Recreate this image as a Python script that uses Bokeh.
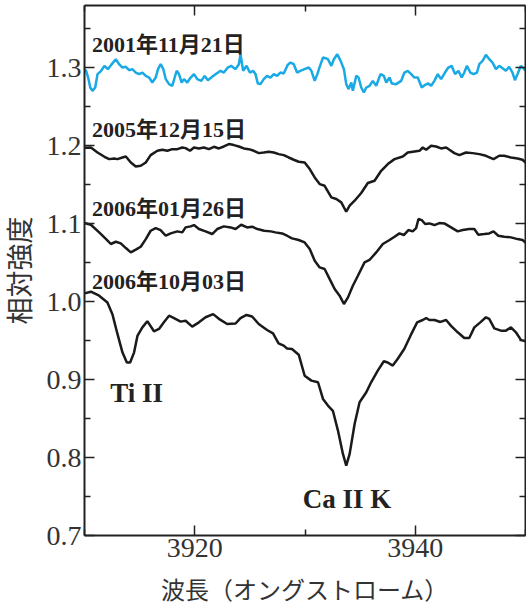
from bokeh.plotting import figure
from bokeh.models import (Range1d, LinearAxis, FixedTicker, CustomJSTickFormatter, Label,
                          PrintfTickFormatter)
from bokeh.embed import file_html
from bokeh.resources import INLINE

# ---- data (wavelength in Angstrom, relative intensity) ----
wl_2001 = [3910.0, 3910.15, 3910.33, 3910.52, 3910.72, 3910.97, 3911.18, 3911.51, 3911.81, 3912.12, 3912.42,
           3912.84, 3913.14, 3913.44, 3913.75, 3914.05, 3914.34, 3914.65, 3914.95, 3915.25, 3915.56,
           3915.86, 3916.15, 3916.46, 3916.67, 3916.91, 3917.15, 3917.37, 3917.67, 3917.96, 3918.18,
           3918.36, 3918.57, 3918.81, 3919.02, 3919.32, 3919.63, 3919.93, 3920.23, 3920.59, 3920.9,
           3921.19, 3921.58, 3921.98, 3922.34, 3922.64, 3923.0, 3923.3, 3923.7, 3924.0, 3924.15,
           3924.39, 3924.7, 3925.0, 3925.29, 3925.51, 3925.72, 3925.96, 3926.26, 3926.56, 3926.87,
           3927.17, 3927.47, 3927.77, 3928.07, 3928.43, 3928.68, 3928.98, 3929.28, 3929.58, 3929.95,
           3930.34, 3930.58, 3930.88, 3931.12, 3931.33, 3931.63, 3931.85, 3932.08, 3932.39, 3932.62,
           3932.93, 3933.23, 3933.53, 3933.74, 3933.96, 3934.2, 3934.34, 3934.65, 3934.86, 3935.1,
           3935.34, 3935.56, 3935.86, 3936.15, 3936.46, 3936.85, 3937.15, 3937.37, 3937.67, 3937.87,
           3938.27, 3938.72, 3939.02, 3939.32, 3939.63, 3939.93, 3940.23, 3940.59, 3940.9, 3941.19,
           3941.44, 3941.74, 3942.04, 3942.34, 3942.7, 3943.0, 3943.3, 3943.61, 3943.91, 3944.21,
           3944.45, 3944.69, 3944.99, 3945.29, 3945.6, 3945.81, 3946.11, 3946.41, 3946.71, 3947.01,
           3947.32, 3947.62, 3947.92, 3948.22, 3948.52, 3948.82, 3949.04, 3949.28, 3949.58, 3949.88, 3950.0]
rel_2001 = [1.298, 1.296, 1.2876, 1.2748, 1.2705, 1.2748, 1.292, 1.2962, 1.3026, 1.2983, 1.3038,
            1.3111, 1.3047, 1.3004, 1.3013, 1.297, 1.2983, 1.294, 1.292, 1.294, 1.2897,
            1.2876, 1.2812, 1.2876, 1.2983, 1.3047, 1.2983, 1.2855, 1.2791, 1.277, 1.2876,
            1.2962, 1.292, 1.2812, 1.2855, 1.2812, 1.2876, 1.292, 1.2855, 1.2833, 1.2897,
            1.2842, 1.2885, 1.2927, 1.2962, 1.294, 1.3004, 1.3026, 1.2983, 1.3047, 1.3175,
            1.2962, 1.3026, 1.294, 1.2962, 1.292, 1.2799, 1.2791, 1.2855, 1.2897, 1.2876,
            1.292, 1.2897, 1.294, 1.2927, 1.3038, 1.3068, 1.3047, 1.294, 1.2962, 1.2983,
            1.3004, 1.2962, 1.2833, 1.292, 1.3013, 1.3132, 1.3124, 1.3111, 1.3026, 1.3111,
            1.3175, 1.309, 1.2983, 1.2791, 1.2727, 1.2812, 1.2705, 1.2897, 1.2876, 1.2748,
            1.2684, 1.2748, 1.277, 1.2833, 1.277, 1.292, 1.2897, 1.2812, 1.2876, 1.2799,
            1.2791, 1.2833, 1.294, 1.2962, 1.292, 1.2876, 1.2876, 1.2748, 1.2782, 1.2799,
            1.277, 1.2833, 1.292, 1.2855, 1.294, 1.3004, 1.3026, 1.292, 1.2962, 1.2876,
            1.294, 1.3026, 1.294, 1.292, 1.294, 1.3047, 1.309, 1.3167, 1.3111, 1.3068,
            1.2983, 1.3026, 1.2996, 1.2962, 1.3013, 1.294, 1.2842, 1.292, 1.3026, 1.2983, 1.297]

wl_2005 = [3910.0, 3910.58, 3911.18, 3911.81, 3912.24, 3912.69, 3912.99, 3913.44, 3913.75, 3914.2, 3914.65,
           3915.1, 3915.56, 3916.0, 3916.61, 3917.06, 3917.51, 3917.96, 3918.42, 3918.87, 3919.17,
           3919.57, 3919.93, 3920.38, 3920.83, 3921.28, 3921.74, 3922.19, 3922.64, 3923.1, 3923.55,
           3924.0, 3924.45, 3924.9, 3925.36, 3925.81, 3926.26, 3926.71, 3927.17, 3927.62, 3928.07,
           3928.52, 3928.98, 3929.43, 3929.97, 3930.43, 3930.88, 3931.33, 3931.78, 3932.39, 3932.84,
           3933.29, 3933.74, 3934.05, 3934.5, 3935.1, 3935.7, 3936.31, 3936.91, 3937.51, 3938.12,
           3938.87, 3939.32, 3939.93, 3940.38, 3940.68, 3940.99, 3941.44, 3941.89, 3942.34, 3942.8,
           3943.1, 3943.55, 3944.0, 3944.6, 3945.2, 3945.81, 3946.41, 3947.1, 3947.62, 3948.07,
           3948.68, 3949.28, 3949.73, 3950.0]
rel_2005 = [1.1975, 1.1978, 1.1914, 1.1859, 1.1829, 1.1838, 1.1829, 1.185, 1.1863, 1.1786, 1.1735,
            1.1744, 1.1786, 1.188, 1.1936, 1.1949, 1.1936, 1.1957, 1.1957, 1.1978, 1.197,
            1.1936, 1.1978, 1.1966, 1.1978, 1.1957, 1.1987, 1.1966, 1.1991, 1.2022, 1.2009,
            1.1991, 1.1966, 1.1957, 1.1936, 1.1906, 1.1914, 1.1923, 1.1914, 1.1893, 1.188,
            1.185, 1.1821, 1.1795, 1.1786, 1.1701, 1.1594, 1.1509, 1.1487, 1.1338, 1.1317,
            1.1274, 1.1154, 1.1231, 1.1295, 1.1394, 1.1522, 1.1551, 1.1679, 1.1765, 1.1829,
            1.1863, 1.1914, 1.1927, 1.1936, 1.1978, 1.1949, 1.2, 1.1991, 1.1966, 1.1978,
            1.1949, 1.1906, 1.188, 1.1914, 1.1906, 1.1893, 1.1872, 1.1829, 1.1872, 1.1872,
            1.185, 1.1838, 1.1821, 1.1786]

wl_2006a = [3910.0, 3910.58, 3911.33, 3911.96, 3912.39, 3912.84, 3913.29, 3913.75, 3914.2, 3914.65, 3915.1,
            3915.56, 3916.0, 3916.46, 3916.9, 3917.37, 3917.82, 3918.42, 3918.87, 3919.17, 3919.63,
            3919.93, 3920.38, 3920.98, 3921.58, 3922.04, 3922.64, 3923.25, 3923.7, 3924.21, 3924.75,
            3925.2, 3925.69, 3926.29, 3926.9, 3927.32, 3927.92, 3928.37, 3928.82, 3929.43, 3929.97,
            3930.43, 3930.88, 3931.33, 3931.78, 3932.24, 3932.69, 3933.14, 3933.53, 3933.9, 3934.34,
            3934.8, 3935.4, 3935.85, 3936.46, 3937.06, 3937.67, 3938.12, 3938.57, 3938.96, 3939.38,
            3939.77, 3940.08, 3940.29, 3940.59, 3940.9, 3941.28, 3941.74, 3942.19, 3942.64, 3943.25,
            3943.85, 3944.3, 3944.9, 3945.36, 3945.72, 3946.26, 3946.71, 3947.1, 3947.53, 3948.07,
            3948.68, 3949.28, 3949.73, 3950.0]
rel_2006a = [1.101, 1.0987, 1.0889, 1.0803, 1.074, 1.0769, 1.0748, 1.0688, 1.0632, 1.0667, 1.0705,
             1.0803, 1.091, 1.0944, 1.0919, 1.0846, 1.0876, 1.0902, 1.0889, 1.0953, 1.0966,
             1.0983, 1.0932, 1.0902, 1.0868, 1.0932, 1.0966, 1.0953, 1.0932, 1.0987, 1.0953,
             1.0962, 1.0932, 1.091, 1.0902, 1.0889, 1.0876, 1.0846, 1.0812, 1.0791, 1.076,
             1.0675, 1.0526, 1.044, 1.0419, 1.029, 1.0163, 1.0077, 0.997, 1.0055, 1.0205,
             1.0333, 1.0504, 1.0535, 1.0632, 1.074, 1.0791, 1.0833, 1.0876, 1.0855, 1.0919,
             1.0902, 1.0944, 1.106, 1.1047, 1.0996, 1.1004, 1.0983, 1.1009, 1.1004, 1.0953,
             1.0902, 1.0919, 1.0932, 1.0932, 1.0859, 1.0868, 1.0876, 1.0902, 1.0846, 1.0833,
             1.0825, 1.0803, 1.0791, 1.076]

wl_2006b = [3910.0, 3910.58, 3911.33, 3912.08, 3912.53, 3912.99, 3913.44, 3913.84, 3914.14, 3914.5, 3914.8,
            3915.25, 3915.7, 3916.3, 3916.76, 3917.2, 3917.67, 3918.12, 3918.72, 3919.17, 3919.77,
            3920.38, 3920.98, 3921.67, 3922.19, 3922.94, 3923.7, 3924.15, 3924.7, 3925.2, 3925.8,
            3926.56, 3927.1, 3927.6, 3928.07, 3928.37, 3928.82, 3929.43, 3929.97, 3930.58, 3931.18,
            3931.63, 3932.08, 3932.53, 3932.99, 3933.44, 3933.74, 3934.05, 3934.5, 3934.95, 3935.56,
            3936.0, 3936.6, 3937.15, 3937.5, 3937.96, 3938.4, 3939.0, 3939.57, 3940.17, 3940.68,
            3940.99, 3941.28, 3941.74, 3942.28, 3942.8, 3943.25, 3943.85, 3944.45, 3944.9, 3945.36,
            3945.9, 3946.41, 3946.71, 3947.17, 3947.77, 3948.22, 3948.68, 3949.13, 3949.58, 3950.0]
rel_2006b = [1.0106, 1.0128, 1.0077, 0.999, 0.984, 0.9586, 0.935, 0.922, 0.922, 0.935, 0.956,
             0.967, 0.975, 0.962, 0.965, 0.9735, 0.982, 0.979, 0.9744, 0.9756, 0.968,
             0.9735, 0.98, 0.984, 0.978, 0.9714, 0.972, 0.979, 0.983, 0.981, 0.9714,
             0.9637, 0.9594, 0.9466, 0.9436, 0.94, 0.9393, 0.932, 0.905, 0.8987, 0.8966,
             0.8752, 0.8667, 0.86, 0.8346, 0.8047, 0.7897, 0.8047, 0.843, 0.871, 0.8838,
             0.8966, 0.9115, 0.9235, 0.922, 0.918, 0.9265, 0.9393, 0.9564, 0.9735, 0.9765,
             0.979, 0.9765, 0.9765, 0.974, 0.9765, 0.969, 0.9607, 0.9534, 0.9534, 0.967,
             0.9735, 0.98, 0.978, 0.9658, 0.9628, 0.9628, 0.967, 0.9607, 0.951, 0.949]

date_labels = ["2001年11月21日", "2005年12月15日", "2006年01月26日", "2006年10月03日"]
date_label_y = [1.330, 1.2205, 1.1199, 1.026]
line_labels = ["Ti II", "Ca II K"]
line_label_x = [3912.33, 3929.79]
line_label_y = [0.8833, 0.7474]

x_title = "波長（オングストローム）"
y_title = "相対強度"

x_major = [3920, 3940]
x_minor = [3910, 3930, 3950]
y_major = [0.7, 0.8, 0.9, 1.0, 1.1, 1.2, 1.3]
y_minor = [0.75, 0.85, 0.95, 1.05, 1.15, 1.25, 1.35]

SERIF = "'Liberation Serif', 'Noto Sans CJK JP'"
AX = "#222222"

p = figure(width=526, height=607, output_backend="svg", toolbar_location=None,
           x_range=Range1d(3910, 3950), y_range=Range1d(0.7, 1.38),
           min_border_left=84, min_border_right=1, min_border_top=5, min_border_bottom=72,
           x_axis_label=x_title, y_axis_label=y_title)
p.grid.visible = False
p.outline_line_color = None
p.background_fill_color = "white"
p.border_fill_color = "white"

xt = FixedTicker(ticks=x_major, minor_ticks=x_minor)
yt = FixedTicker(ticks=y_major, minor_ticks=y_minor)


def style(ax, ticker, labels=True):
    ax.ticker = ticker
    ax.axis_line_color = AX
    ax.axis_line_width = 2
    ax.major_tick_line_color = AX
    ax.minor_tick_line_color = AX
    ax.major_tick_line_width = 1.5
    ax.minor_tick_line_width = 1.5
    ax.major_tick_in = 10
    ax.major_tick_out = 0
    ax.minor_tick_in = 6
    ax.minor_tick_out = 0
    if labels:
        ax.major_label_text_font = "Liberation Serif"
        ax.major_label_text_font_size = "28px"
        ax.major_label_text_color = "#333333"
        ax.major_label_standoff = 3
        ax.axis_label_text_font = SERIF
        ax.axis_label_text_font_style = "normal"
        ax.axis_label_text_color = "#333333"
    else:
        ax.formatter = CustomJSTickFormatter(code="return ''")
        ax.major_label_text_font_size = "0px"
        ax.major_label_standoff = 0


style(p.xaxis[0], xt)
p.xaxis[0].formatter = PrintfTickFormatter(format="%d")
p.xaxis[0].axis_label_text_font_size = "24px"
p.xaxis[0].axis_label_standoff = 18
style(p.yaxis[0], yt)
p.yaxis[0].formatter = PrintfTickFormatter(format="%.1f")
p.yaxis[0].axis_label_text_font_size = "27px"
p.yaxis[0].axis_label_standoff = 8

top = LinearAxis()
style(top, xt, labels=False)
p.add_layout(top, "above")
right = LinearAxis()
style(right, yt, labels=False)
p.add_layout(right, "right")

p.line(wl_2001, rel_2001, line_color="#19a9e5", line_width=2.5)
p.line(wl_2005, rel_2005, line_color="#1a1a1a", line_width=2.5)
p.line(wl_2006a, rel_2006a, line_color="#1a1a1a", line_width=2.5)
p.line(wl_2006b, rel_2006b, line_color="#1a1a1a", line_width=2.5)

for txt, yv in zip(date_labels, date_label_y):
    p.add_layout(Label(x=3910.67, y=yv, text=txt, text_font=SERIF, text_font_style="bold",
                       text_font_size="22px", text_color="#222222", text_baseline="middle"))
for txt, xv, yv in zip(line_labels, line_label_x, line_label_y):
    p.add_layout(Label(x=xv, y=yv, text=txt, text_font=SERIF, text_font_style="bold",
                       text_font_size="27px", text_color="#222222", text_baseline="middle"))

open("out.html", "w").write(file_html(p, INLINE))
